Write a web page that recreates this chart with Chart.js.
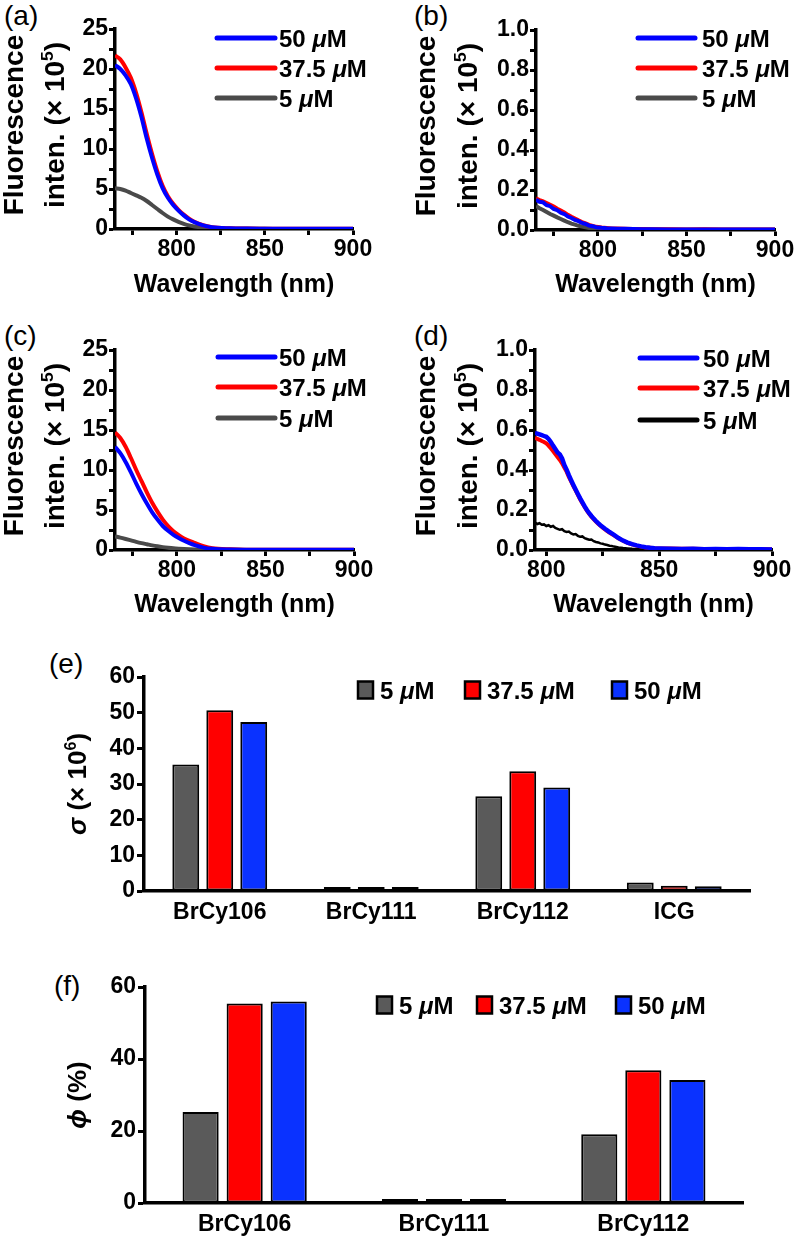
<!DOCTYPE html>
<html><head><meta charset="utf-8">
<script src="https://cdn.jsdelivr.net/npm/chart.js@4.4.0/dist/chart.umd.min.js"></script>
<style>
html,body{margin:0;padding:0;background:#fff;}
body{width:800px;height:1242px;position:relative;overflow:hidden;font-family:'Liberation Sans',Arial,sans-serif;}
canvas{position:absolute;}
.pl{position:absolute;font-size:28px;line-height:1;color:#000;font-family:'Liberation Sans',Arial,sans-serif;}
</style></head><body>
<div class="pl" style="left:4px;top:2px">(a)</div>
<div class="pl" style="left:414px;top:2px">(b)</div>
<div class="pl" style="left:4px;top:322px">(c)</div>
<div class="pl" style="left:414px;top:322px">(d)</div>
<div class="pl" style="left:49px;top:650px">(e)</div>
<div class="pl" style="left:54px;top:972px">(f)</div>
<canvas id="ca" width="400" height="315" style="left:0;top:0"></canvas>
<canvas id="cb" width="400" height="315" style="left:400px;top:0"></canvas>
<canvas id="cc" width="400" height="315" style="left:0;top:315px"></canvas>
<canvas id="cd" width="400" height="315" style="left:400px;top:315px"></canvas>
<canvas id="ce" width="800" height="300" style="left:0;top:630px"></canvas>
<canvas id="cf" width="800" height="312" style="left:0;top:930px"></canvas>
<script>
// ---------- data ----------
const seriesLabels = ['50 μM', '37.5 μM', '5 μM'];
const barLabels = ['5 μM', '37.5 μM', '50 μM'];

const wlAC = [765,768,771,774,777,780,783,786,789,792,795,798,801,804,807,810,815,820,830,840,850,860,870,880,890,900];
const a50  = [20.5,20.0,19.2,18.1,16.3,14.0,11.3,8.9,6.8,5.1,3.9,3.0,2.3,1.7,1.2,0.85,0.45,0.22,0.09,0.05,0.04,0.03,0.03,0.02,0.02,0.02];
const a375 = [21.7,21.2,20.2,18.9,17.0,14.6,11.9,9.4,7.2,5.4,4.1,3.15,2.4,1.8,1.3,0.9,0.47,0.23,0.09,0.05,0.04,0.03,0.03,0.02,0.02,0.02];
const a5   = [5.1,5.0,4.8,4.5,4.2,3.9,3.5,3.0,2.5,2.0,1.55,1.2,0.9,0.65,0.45,0.32,0.17,0.09,0.04,0.02,0.02,0.01,0.01,0.01,0.01,0.01];
const c50  = [12.9,12.1,11.0,9.7,8.3,7.0,5.8,4.7,3.8,3.0,2.4,1.9,1.5,1.15,0.85,0.6,0.3,0.15,0.06,0.04,0.03,0.03,0.02,0.02,0.02,0.02];
const c375 = [14.7,14.0,12.9,11.5,10.0,8.6,7.2,5.9,4.8,3.8,3.0,2.35,1.85,1.45,1.15,0.9,0.48,0.22,0.08,0.04,0.03,0.03,0.02,0.02,0.02,0.02];
const c5   = [1.7,1.55,1.38,1.2,1.02,0.86,0.72,0.58,0.46,0.36,0.28,0.21,0.16,0.12,0.09,0.07,0.05,0.03,0.02,0.01,0.01,0.01,0.01,0.01,0.01,0.01];

const wlB  = [765,767,769,771,773,775,777,779,781,783,785,787,789,791,793,795,797,799,802,805,808,811,815,820,825,830,840,850,860,870,880,890,900];
const b50  = [.152,.141,.138,.124,.119,.105,.099,.086,.080,.067,.060,.050,.044,.035,.030,.022,.019,.014,.011,.009,.008,.006,.006,.005,.004,.004,.003,.003,.002,.003,.002,.002,.002];
const b375 = [.158,.150,.143,.135,.126,.117,.106,.097,.088,.076,.066,.057,.048,.040,.033,.026,.021,.016,.012,.010,.008,.007,.006,.005,.005,.004,.004,.003,.004,.003,.003,.002,.002];
const b5   = [.120,.109,.100,.090,.080,.072,.063,.055,.047,.039,.032,.027,.021,.017,.013,.010,.008,.006,.005,.004,.003,.003,.002,.002,.002,.002,.001,.001,.001,.001,.001,.001,.001];

const wlD  = [795,796,797,798,799,800,801,802,803,804,805,806,807,808,809,810,811,812,813,814,815,816,817,818,819,820,821,822,823,824,825,826,827,828,829,830,
              832,834,836,838,840,842,844,846,848,850,855,860,865,870,875,880,885,890,895,900];
const d50  = [.585,.582,.578,.574,.570,.566,.555,.540,.522,.505,.488,.478,.458,.425,.402,.374,.349,.325,.302,.280,.258,.238,.218,.200,.184,.170,.157,.145,.134,.124,.115,.106,.098,.090,.083,.076,
              .060,.047,.037,.029,.023,.018,.014,.011,.009,.008,.006,.005,.006,.004,.005,.004,.005,.004,.004,.003];
const d375 = [.560,.556,.551,.545,.540,.533,.522,.509,.495,.480,.465,.450,.433,.412,.392,.366,.343,.320,.298,.276,.254,.234,.215,.197,.181,.167,.154,.142,.131,.121,.112,.103,.095,.087,.080,.073,
              .058,.046,.036,.028,.022,.017,.013,.011,.009,.008,.007,.006,.006,.005,.005,.005,.004,.004,.004,.004];
const d5   = [.138,.130,.134,.126,.128,.120,.124,.116,.120,.110,.106,.101,.104,.094,.090,.092,.083,.078,.080,.071,.066,.068,.059,.055,.051,.052,.044,.040,.038,.033,.031,.027,.025,.021,.020,.017,
              .013,.010,.008,.006,.005,.004,.004,.003,.003,.003,.002,.002,.002,.002,.002,.001,.001,.001,.001,.001];

const dyesE = ['BrCy106', 'BrCy111', 'BrCy112', 'ICG'];
const e5   = [35.5, 0.9, 26.6, 2.4];
const e375 = [50.7, 0.6, 33.6, 1.5];
const e50  = [47.4, 0.4, 29.0, 1.3];

const dyesF = ['BrCy106', 'BrCy111', 'BrCy112'];
const f5   = [25.3, 0.4, 19.1];
const f375 = [55.4, 0.5, 36.9];
const f50  = [56.0, 0.3, 34.2];

const xTicksAC = [775, 800, 825, 850, 875, 900];
const xTicksD  = [800, 825, 850, 875, 900];
const yTicksAC = [0, 2.5, 5, 7.5, 10, 12.5, 15, 17.5, 20, 22.5, 25];
const yTicksBD = [0, 0.1, 0.2, 0.3, 0.4, 0.5, 0.6, 0.7, 0.8, 0.9, 1.0];
const yTicksE  = [0, 10, 20, 30, 40, 50, 60];
const yTicksF  = [0, 20, 40, 60];

// ---------- helpers ----------
const FF = "'Liberation Sans', Arial, sans-serif";
Chart.defaults.font.family = FF;
Chart.defaults.color = '#000';
const tickFont = { size: 23, weight: 'bold' };

function runsFor(label) {
  const i = label.indexOf('μ');
  if (i < 0) return [{ t: label }];
  return [{ t: label.slice(0, i) }, { t: 'μ', it: true }, { t: label.slice(i + 1) }];
}
function drawRuns(ctx, runs, x, y, size, align) {
  let w = 0;
  const parts = runs.map(r => {
    const fs = r.sup ? size * 0.62 : size;
    const f = (r.it ? 'italic ' : '') + 'bold ' + fs + 'px ' + FF;
    ctx.font = f;
    const mw = ctx.measureText(r.t).width;
    w += mw;
    return { r, f, mw };
  });
  let cx = align === 'center' ? x - w / 2 : x;
  for (const p of parts) {
    ctx.font = p.f;
    ctx.fillText(p.r.t, cx, p.r.sup ? y - size * 0.4 : y);
    cx += p.mw;
  }
  return w;
}

const rotTitle = {
  id: 'rotTitle',
  afterDraw(chart, args, o) {
    if (!o || !o.lines) return;
    const ctx = chart.ctx, ca = chart.chartArea;
    const cy = (ca.top + ca.bottom) / 2 + (o.dy || 0);
    ctx.save();
    ctx.fillStyle = '#000';
    ctx.textBaseline = 'alphabetic';
    o.lines.forEach((runs, i) => {
      ctx.save();
      ctx.translate(o.x[i], cy);
      ctx.rotate(-Math.PI / 2);
      drawRuns(ctx, runs, 0, 0, o.size, 'center');
      ctx.restore();
    });
    ctx.restore();
  }
};

const lineLegend = {
  id: 'lineLegend',
  afterDraw(chart, args, o) {
    if (!o || !o.rows) return;
    const ctx = chart.ctx;
    chart.data.datasets.forEach((ds, i) => {
      const y = o.rows[i];
      ctx.save();
      ctx.strokeStyle = ds.borderColor;
      ctx.lineWidth = o.lw;
      ctx.lineCap = 'round';
      ctx.beginPath(); ctx.moveTo(o.x0, y); ctx.lineTo(o.x1, y); ctx.stroke();
      ctx.fillStyle = '#000';
      ctx.textBaseline = 'alphabetic';
      drawRuns(ctx, runsFor(ds.label), o.tx, y + o.size * 0.36, o.size, 'left');
      ctx.restore();
    });
  }
};

const barLegend = {
  id: 'barLegend',
  afterDraw(chart, args, o) {
    if (!o || !o.xs) return;
    const ctx = chart.ctx;
    chart.data.datasets.forEach((ds, i) => {
      const x = o.xs[i], y = o.y;
      ctx.save();
      ctx.fillStyle = ds.backgroundColor;
      ctx.fillRect(x, y - o.bh / 2, o.bw, o.bh);
      ctx.strokeStyle = '#000'; ctx.lineWidth = 2.5;
      ctx.strokeRect(x, y - o.bh / 2, o.bw, o.bh);
      ctx.fillStyle = '#000';
      ctx.textBaseline = 'alphabetic';
      drawRuns(ctx, runsFor(ds.label), x + o.bw + 7, y + o.size * 0.36, o.size, 'left');
      ctx.restore();
    });
  }
};

const yTitleFluo = [
  [{ t: 'Fluorescence' }],
  [{ t: 'inten. (× 10' }, { t: '5', sup: true }, { t: ')' }]
];

function axisGrid() {
  return { display: true, drawOnChartArea: false, drawTicks: true, tickLength: 6, tickWidth: 3, tickColor: '#000' };
}

function makeLine(id, o) {
  return new Chart(document.getElementById(id), {
    type: 'line',
    data: {
      datasets: o.series.map((s, i) => ({
        label: seriesLabels[i],
        data: o.x.map((x, k) => ({ x: x, y: s[k] })),
        borderColor: o.colors[i],
        borderWidth: o.widths[i],
        pointRadius: 0,
        fill: false,
        tension: o.smooth ? 0.4 : 0,
        cubicInterpolationMode: o.smooth ? 'monotone' : 'default'
      }))
    },
    options: {
      responsive: false, animation: false, events: [],
      layout: { padding: o.pad },
      plugins: {
        legend: { display: false }, tooltip: { enabled: false },
        rotTitle: { lines: yTitleFluo, x: o.titleX, size: 28, dy: -4 },
        lineLegend: o.legend
      },
      scales: {
        x: {
          type: 'linear', min: o.xmin, max: 900,
          afterBuildTicks: ax => { ax.ticks = o.xticks.map(v => ({ value: v })); },
          afterFit: ax => { ax.height = o.xh; },
          ticks: { autoSkip: false, maxRotation: 0, padding: 1, font: tickFont, color: '#000',
                   callback: v => (v % 50 === 0 ? String(v) : '') },
          grid: axisGrid(),
          border: { display: true, color: '#000', width: 3.5 },
          title: { display: true, text: 'Wavelength (nm)', color: '#000',
                   font: { size: 25, weight: 'bold' }, padding: { top: 0, bottom: o.xtPad } }
        },
        y: {
          type: 'linear', min: 0, max: o.ymax,
          afterBuildTicks: ax => { ax.ticks = o.yticks.map(v => ({ value: v })); },
          afterFit: ax => { ax.width = o.yw; },
          ticks: { autoSkip: false, padding: 1, font: tickFont, color: '#000', callback: o.yfmt },
          grid: axisGrid(),
          border: { display: true, color: '#000', width: 3.5 }
        }
      }
    },
    plugins: [rotTitle, lineLegend]
  });
}

const fmtAC = v => (v % 5 === 0 ? String(v) : '');
const fmtBD = v => (Math.round(v * 10) % 2 === 0 ? v.toFixed(1) : '');

makeLine('ca', {
  x: wlAC, series: [a50, a375, a5], colors: ['#0000ff', '#ff0000', '#4a4a4a'], widths: [4, 4, 4], smooth: true,
  pad: { left: 0, top: 29, right: 47, bottom: 0 }, xh: 86, yw: 115, xtPad: 15, xmin: 765,
  xticks: xTicksAC, yticks: yTicksAC, ymax: 25, yfmt: fmtAC, titleX: [23, 64],
  legend: { rows: [38, 68, 98], x0: 217, x1: 275, tx: 279, lw: 5, size: 24 }
});
makeLine('cb', {
  x: wlB, series: [b50, b375, b5], colors: ['#0000ff', '#ff0000', '#4a4a4a'], widths: [4, 4, 4], smooth: false,
  pad: { left: 0, top: 30, right: 25, bottom: 0 }, xh: 85, yw: 136, xtPad: 15, xmin: 765,
  xticks: xTicksAC, yticks: yTicksBD, ymax: 1.0, yfmt: fmtBD, titleX: [35, 77],
  legend: { rows: [38, 68, 98], x0: 238, x1: 295, tx: 302, lw: 5, size: 24 }
});
makeLine('cc', {
  x: wlAC, series: [c50, c375, c5], colors: ['#0000ff', '#ff0000', '#4a4a4a'], widths: [4, 4, 4], smooth: true,
  pad: { left: 0, top: 35, right: 46, bottom: 0 }, xh: 80, yw: 115, xtPad: 10, xmin: 765,
  xticks: xTicksAC, yticks: yTicksAC, ymax: 25, yfmt: fmtAC, titleX: [23, 64],
  legend: { rows: [42, 72, 103], x0: 218, x1: 275, tx: 279, lw: 5, size: 24 }
});
makeLine('cd', {
  x: wlD, series: [d50, d375, d5], colors: ['#0000ff', '#ff0000', '#000000'], widths: [4.5, 4, 2.5], smooth: false,
  pad: { left: 0, top: 35, right: 28, bottom: 0 }, xh: 80, yw: 135, xtPad: 10, xmin: 795,
  xticks: xTicksD, yticks: yTicksBD, ymax: 1.0, yfmt: fmtBD, titleX: [35, 77],
  legend: { rows: [43, 73, 105], x0: 240, x1: 297, tx: 303, lw: 5, size: 24 }
});

function makeBar(id, o) {
  const colors = ['#5a5a5a', '#ff0000', '#0a32ff'];
  return new Chart(document.getElementById(id), {
    type: 'bar',
    data: {
      labels: o.labels,
      datasets: o.series.map((s, i) => ({
        label: barLabels[i], data: s, backgroundColor: colors[i],
        borderColor: '#000', borderWidth: 2, borderSkipped: false, minBarLength: 4,
        categoryPercentage: o.cp, barPercentage: o.bp
      }))
    },
    options: {
      responsive: false, animation: false, events: [],
      layout: { padding: o.pad },
      plugins: {
        legend: { display: false }, tooltip: { enabled: false },
        rotTitle: { lines: o.title, x: [86], size: 26, dy: 0 },
        barLegend: o.legend
      },
      scales: {
        x: {
          afterFit: ax => { ax.height = o.xh; },
          ticks: { autoSkip: false, maxRotation: 0, padding: 8, font: tickFont, color: '#000' },
          grid: { display: false, drawTicks: false },
          border: { display: true, color: '#000', width: 3.5 }
        },
        y: {
          min: 0, max: 60,
          afterBuildTicks: ax => { ax.ticks = o.yticks.map(v => ({ value: v })); },
          afterFit: ax => { ax.width = o.yw; },
          ticks: { autoSkip: false, padding: 2, font: tickFont, color: '#000' },
          grid: { display: true, drawOnChartArea: false, drawTicks: true, tickLength: 7, tickWidth: 3, tickColor: '#000' },
          border: { display: true, color: '#000', width: 3.5 }
        }
      }
    },
    plugins: [rotTitle, barLegend]
  });
}

makeBar('ce', {
  labels: dyesE, series: [e5, e375, e50], cp: 0.673, bp: 0.79,
  pad: { left: 0, top: 47, right: 50, bottom: 0 }, xh: 39, yw: 144, yticks: yTicksE,
  title: [[{ t: 'σ', it: true }, { t: ' (× 10' }, { t: '6', sup: true }, { t: ')' }]],
  legend: { xs: [358, 465, 612], y: 60, bw: 15, bh: 17, size: 24 }
});
makeBar('cf', {
  labels: dyesF, series: [f5, f375, f50], cp: 0.663, bp: 0.82,
  pad: { left: 0, top: 57, right: 57, bottom: 0 }, xh: 39, yw: 145, yticks: yTicksF,
  title: [[{ t: 'ϕ', it: true }, { t: ' (%)' }]],
  legend: { xs: [377, 477, 616], y: 75, bw: 15, bh: 17, size: 24 }
});
</script>
</body></html>
